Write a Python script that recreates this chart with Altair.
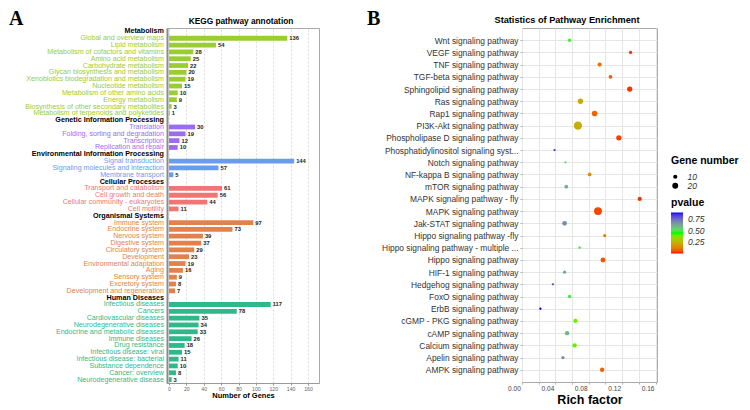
import altair as alt
import pandas as pd

FONT = "Liberation Sans"

# ---------------- Panel A: KEGG pathway annotation ----------------
group_names = ["Metabolism", "Genetic Information Processing",
               "Environmental Information Processing", "Cellular Processes",
               "Organismal Systems", "Human Diseases"]
group_colors = ["#9ACD32", "#9C6CF0", "#6B9BEF", "#F27575", "#E3814C", "#2EB98A"]

metabolism_terms = ["Global and overview maps", "Lipid metabolism",
                    "Metabolism of cofactors and vitamins", "Amino acid metabolism",
                    "Carbohydrate metabolism", "Glycan biosynthesis and metabolism",
                    "Xenobiotics biodegradation and metabolism", "Nucleotide metabolism",
                    "Metabolism of other amino acids", "Energy metabolism",
                    "Biosynthesis of other secondary metabolites",
                    "Metabolism of terpenoids and polyketides"]
metabolism_counts = [136, 54, 28, 25, 22, 20, 19, 15, 10, 9, 3, 1]

genetic_terms = ["Translation", "Folding, sorting and degradation",
                 "Transcription", "Replication and repair"]
genetic_counts = [30, 19, 12, 10]

environmental_terms = ["Signal transduction", "Signaling molecules and interaction",
                       "Membrane transport"]
environmental_counts = [144, 57, 5]

cellular_terms = ["Transport and catabolism", "Cell growth and death",
                  "Cellular community - eukaryotes", "Cell motility"]
cellular_counts = [61, 56, 44, 11]

organismal_terms = ["Immune system", "Endocrine system", "Nervous system",
                    "Digestive system", "Circulatory system", "Development",
                    "Environmental adaptation", "Aging", "Sensory system",
                    "Excretory system", "Development and regeneration"]
organismal_counts = [97, 73, 39, 37, 29, 23, 19, 16, 9, 8, 7]

disease_terms = ["Infectious diseases", "Cancers", "Cardiovascular diseases",
                 "Neurodegenerative diseases", "Endocrine and metabolic diseases",
                 "Immune diseases", "Drug resistance", "Infectious disease: viral",
                 "Infectious disease: bacterial", "Substance dependence",
                 "Cancer: overview", "Neurodegenerative disease"]
disease_counts = [117, 78, 35, 34, 33, 26, 18, 15, 11, 10, 8, 3]

xA_ticks = [0, 20, 40, 60, 80, 100, 120, 140, 160]

# ---------------- Panel B: Statistics of Pathway Enrichment ----------------
pathways = ["Wnt signaling pathway", "VEGF signaling pathway", "TNF signaling pathway",
            "TGF-beta signaling pathway", "Sphingolipid signaling pathway",
            "Ras signaling pathway", "Rap1 signaling pathway", "PI3K-Akt signaling pathway",
            "Phospholipase D signaling pathway", "Phosphatidylinositol signaling syst...",
            "Notch signaling pathway", "NF-kappa B signaling pathway",
            "mTOR signaling pathway", "MAPK signaling pathway - fly",
            "MAPK signaling pathway", "Jak-STAT signaling pathway",
            "Hippo signaling pathway -fly", "Hippo signaling pathway - multiple ...",
            "Hippo signaling pathway", "HIF-1 signaling pathway",
            "Hedgehog signaling pathway", "FoxO signaling pathway",
            "ErbB signaling pathway", "cGMP - PKG signaling pathway",
            "cAMP signaling pathway", "Calcium signaling pathway",
            "Apelin signaling pathway", "AMPK signaling pathway"]
rich_factor = [0.057, 0.130, 0.093, 0.106, 0.129, 0.070, 0.087, 0.067, 0.116, 0.039,
               0.052, 0.081, 0.053, 0.141, 0.091, 0.051, 0.099, 0.069, 0.097, 0.051,
               0.037, 0.057, 0.022, 0.064, 0.054, 0.063, 0.049, 0.096]
pvalues = [0.48, 0.02, 0.10, 0.07, 0.02, 0.22, 0.08, 0.23, 0.03, 0.85,
           0.55, 0.16, 0.62, 0.02, 0.04, 0.68, 0.13, 0.45, 0.06, 0.62,
           0.82, 0.50, 0.90, 0.40, 0.60, 0.40, 0.68, 0.08]
gene_numbers = [7, 6, 10, 8, 16, 16, 18, 39, 16, 3,
                3, 8, 8, 10, 36, 13, 6, 3, 14, 6,
                3, 7, 3, 10, 11, 11, 6, 11]
xB_ticks = [0.0, 0.02, 0.04, 0.06, 0.08, 0.10, 0.12, 0.14, 0.16]
pvalue_colors = ["#FF0000", "#00FF00", "#0000FF"]

# ---------------- build tables ----------------
groups = [
    (group_names[0], metabolism_terms, metabolism_counts),
    (group_names[1], genetic_terms, genetic_counts),
    (group_names[2], environmental_terms, environmental_counts),
    (group_names[3], cellular_terms, cellular_counts),
    (group_names[4], organismal_terms, organismal_counts),
    (group_names[5], disease_terms, disease_counts),
]
rows = []
i = 0
for g, terms, counts in groups:
    rows.append({"idx": i, "label": g, "group": g, "count": None, "header": True})
    i += 1
    for t, c in zip(terms, counts):
        rows.append({"idx": i, "label": t, "group": g, "count": c, "header": False})
        i += 1
n_rows = i
dfA = pd.DataFrame(rows)
items = dfA[~dfA["header"]].copy()
items["count"] = items["count"].astype(int)
headers = dfA[dfA["header"]][["idx", "label"]].copy()

dfB = pd.DataFrame({"pathway": pathways, "rich": rich_factor,
                    "pvalue": pvalues, "genes": gene_numbers})

# ---------------- Panel A chart ----------------
WA, HA = 152, 355
yA_scale = alt.Scale(domain=list(range(n_rows)), paddingInner=0.3, paddingOuter=0.15)
yA_axis = alt.Axis(labels=False, ticks=False, domain=True, domainColor="#8A8A8A",
                   domainWidth=2, grid=False, title=None)
xA_scale = alt.Scale(domain=[-2.3, 172.6], nice=False)
xA_axis = alt.Axis(values=xA_ticks, tickCount=9, title="Number of Genes", titleFontSize=7.5,
                   titleFontWeight="bold", titleColor="black", titlePadding=0,
                   labelFontSize=5.2, labelColor="#666666", labelFlush=False,
                   labelOverlap=False, tickSize=2, tickColor="#999999",
                   labelPadding=1, domainColor="#999999", domainWidth=1.2,
                   grid=True, gridColor="#D0D0D0", gridDash=[2, 2], gridWidth=0.8)
colorA = alt.Color("group:N", scale=alt.Scale(domain=group_names, range=group_colors),
                   legend=None)

bars = alt.Chart(items).mark_bar().encode(
    x=alt.X("count:Q", scale=xA_scale, axis=xA_axis),
    y=alt.Y("idx:O", scale=yA_scale, axis=yA_axis),
    color=colorA)
item_text = alt.Chart(items).mark_text(align="right", baseline="middle", fontSize=7.1,
                                       dx=-3).encode(
    x=alt.value(0), y=alt.Y("idx:O", scale=yA_scale, axis=yA_axis),
    text="label:N", color=colorA)
header_text = alt.Chart(headers).mark_text(align="right", baseline="middle", fontSize=7.2,
                                           fontWeight="bold", color="black", dx=-3).encode(
    x=alt.value(0), y=alt.Y("idx:O", scale=yA_scale, axis=yA_axis), text="label:N")
value_text = alt.Chart(items).mark_text(align="left", baseline="middle", fontSize=5.8,
                                        fontWeight="bold", color="#222222", dx=2).encode(
    x=alt.X("count:Q", scale=xA_scale, axis=xA_axis),
    y=alt.Y("idx:O", scale=yA_scale, axis=yA_axis), text="count:Q")

letterA = alt.Chart(pd.DataFrame({"t": ["A"]})).mark_text(
    font="Liberation Serif", fontSize=20, fontWeight="bold", align="left",
    baseline="top", color="black").encode(x=alt.value(-158), y=alt.value(-19), text="t:N")
titleA = alt.Chart(pd.DataFrame({"t": ["KEGG pathway annotation"]})).mark_text(
    fontSize=8.3, fontWeight="bold", align="center", baseline="middle",
    color="black").encode(x=alt.value(74), y=alt.value(-6), text="t:N")

panelA = alt.layer(bars, item_text, header_text, value_text, letterA, titleA).properties(
    width=WA, height=HA)

# ---------------- Panel B chart ----------------
WB, HB = 135, 354
yB = alt.Y("pathway:N", sort=pathways, scale=alt.Scale(padding=1.2),
           axis=alt.Axis(title=None, labelFontSize=8.4, labelColor="#333333", tickSize=2,
                         tickColor="#AAAAAA", domain=False, grid=True, gridColor="#E6E6E6",
                         labelPadding=2, labelLimit=220))
xB = alt.X("rich:Q", scale=alt.Scale(domain=[0, 0.1617], nice=False, zero=False),
           axis=alt.Axis(values=xB_ticks,
                         labelExpr="round(datum.value*100) % 4 == 0 ? format(datum.value, '.2f') : ''",
                         labelOffset=-8, labelFlush=False, labelOverlap=False,
                         title="Rich factor", titleFontSize=12.5, titleFontWeight="bold",
                         titleColor="black", titlePadding=2, labelFontSize=6.6,
                         labelColor="#444444", tickSize=2, tickColor="#AAAAAA",
                         domain=False, grid=True, gridColor="#E6E6E6", labelPadding=1))
sizeB = alt.Size("genes:Q", scale=alt.Scale(domain=[0, 40], range=[0, 70]),
                 legend=alt.Legend(title="Gene number", values=[10, 20], orient="none",
                                   legendX=149, legendY=128, titleFontSize=10.5,
                                   titleFontWeight="bold", titleColor="black",
                                   labelFontSize=8.5, labelFontStyle="italic",
                                   labelColor="#333333", symbolFillColor="black",
                                   symbolStrokeColor="black", symbolStrokeWidth=0,
                                   symbolType="circle", rowPadding=0, labelOffset=8,
                                   titlePadding=6))
colorB = alt.Color("pvalue:Q",
                   scale=alt.Scale(domain=[0, 0.45, 0.9], range=pvalue_colors,
                                   interpolate="lab"),
                   legend=alt.Legend(title="pvalue", orient="none", legendX=149,
                                     legendY=170, values=[0.25, 0.5, 0.75], format=".2f",
                                     gradientLength=41, gradientThickness=12,
                                     gradientStrokeWidth=0, titleFontSize=10.5,
                                     titleFontWeight="bold", titleColor="black",
                                     labelFontSize=8.5, labelFontStyle="italic",
                                     labelColor="#333333", labelOffset=5, titlePadding=4,
                                     direction="vertical"))
points = alt.Chart(dfB).mark_circle(opacity=1).encode(x=xB, y=yB, size=sizeB, color=colorB)

letterB = alt.Chart(pd.DataFrame({"t": ["B"]})).mark_text(
    font="Liberation Serif", fontSize=20, fontWeight="bold", align="left",
    baseline="top", color="black").encode(x=alt.value(-155), y=alt.value(-19), text="t:N")
titleB = alt.Chart(pd.DataFrame({"t": ["Statistics of Pathway Enrichment"]})).mark_text(
    fontSize=9.2, fontWeight="bold", align="center", baseline="middle",
    color="black").encode(x=alt.value(45), y=alt.value(-8), text="t:N")

panelB = alt.layer(points, letterB, titleB).properties(width=WB, height=HB)

chart = alt.hconcat(panelA, panelB, spacing=203, bounds="flush").properties(
    padding=0
).resolve_scale(color="independent", size="independent").configure(
    font=FONT
).configure_view(stroke="#AAAAAA", strokeWidth=1)

chart.save("out.html", embed_options={"renderer": "svg", "actions": False})
